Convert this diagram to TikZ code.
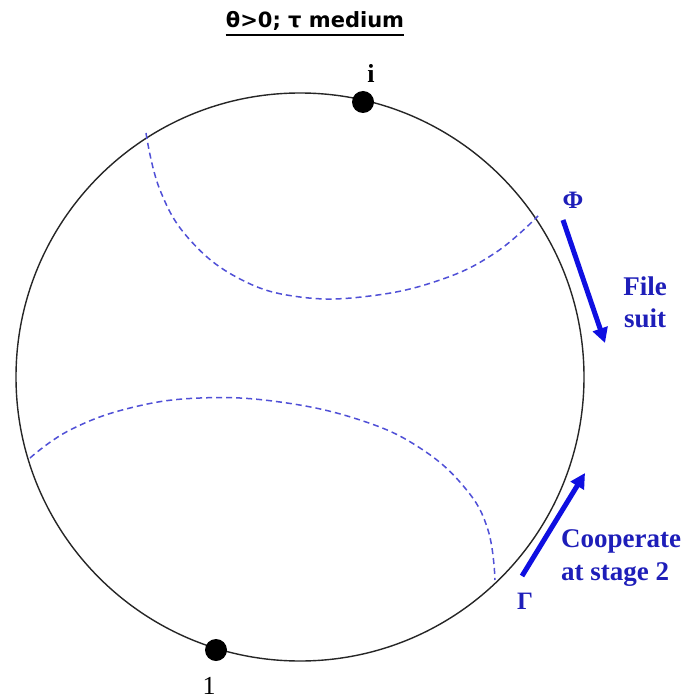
\documentclass[tikz,border=0pt]{standalone}
\usepackage{fontspec}
\usetikzlibrary{arrows.meta}
\newfontfamily\lserif{Liberation Serif}
\newfontfamily\dsans{DejaVu Sans}
\definecolor{arrblue}{RGB}{15,15,225}
\definecolor{txtblue}{RGB}{30,30,185}
\definecolor{dashblue}{RGB}{80,80,215}
\begin{document}
\begin{tikzpicture}[x=1pt,y=-1pt,
  bluelbl/.style={font=\lserif\bfseries\fontsize{27}{32}\selectfont, text=txtblue, inner sep=0pt},
  greeklbl/.style={font=\lserif\bfseries\fontsize{25}{28}\selectfont, text=txtblue, inner sep=0pt},
  ptlbl/.style={font=\lserif\fontsize{26}{30}\selectfont, inner sep=0pt, anchor=base},
  dot/.style={circle, fill=black, minimum size=22pt, inner sep=0pt},
  bigarrow/.style={draw=arrblue, line width=5pt, -{Triangle[length=15pt,width=15pt]}},
  dashcurve/.style={draw=dashblue, line width=1.5pt, dash pattern=on 6pt off 4pt}]
\useasboundingbox (0,0) rectangle (688,700);
\fill[white] (0,0) rectangle (688,700);
% title
\node[font=\dsans\bfseries\fontsize{21}{25}\selectfont, inner sep=0pt, anchor=base] (title) at (315,28) {θ>0; τ medium};
\draw[line width=1.8pt] ([yshift=-7pt]title.base west) -- ([yshift=-7pt]title.base east);
% circle
\coordinate (c) at (300,377);
\draw[line width=1.4pt, black!85] (c) circle[radius=284pt];
% dashed curves
\draw[dashcurve] plot[smooth, tension=0.7] coordinates {(146,133) (160,190) (190,240) (240,279) (300,297) (370,296) (440,280) (495,253) (538,216)};
\draw[dashcurve] plot[smooth, tension=0.7] coordinates {(30,458) (70,430) (130,408) (200,398) (280,402) (360,420) (420,448) (465,488) (488,530) (495,580)};
% points
\node[dot] (i) at (363,102) {};
\node[ptlbl, font=\lserif\bfseries\fontsize{26}{30}\selectfont] (ilbl) at (371,83) {i};
\node[dot] (one) at (216,650) {};
\node[ptlbl] (onelbl) at (209,694) {1};
% Phi arrow
\node[greeklbl] (phi) at (573,200) {Φ};
\coordinate (phiA) at (563,220);
\coordinate (phiB) at (605,343);
\draw[bigarrow] (phiA) -- (phiB);
\node[bluelbl, align=center, anchor=base] (file) at (645,295) {File};
\node[bluelbl, align=center, anchor=base] (suit) at (645,327) {suit};
% Gamma arrow
\node[greeklbl] (gam) at (525,601) {Γ};
\coordinate (gamA) at (522,576);
\coordinate (gamB) at (585,473);
\draw[bigarrow] (gamA) -- (gamB);
\node[bluelbl, anchor=base west] (coop) at (561,547) {Cooperate};
\node[bluelbl, anchor=base west] (stage) at (561,580) {at stage 2};
\end{tikzpicture}
\end{document}
